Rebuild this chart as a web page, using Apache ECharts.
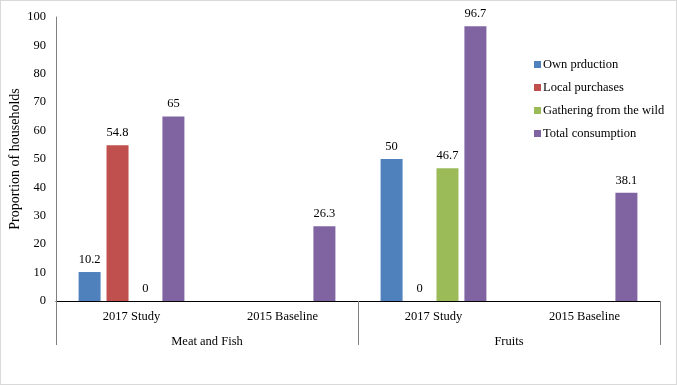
<!DOCTYPE html>
<html>
<head>
<meta charset="utf-8">
<script src="https://cdn.jsdelivr.net/npm/echarts@6/dist/echarts.min.js"></script>
<style>
  html, body { margin: 0; padding: 0; background: #fff; }
  #chart { width: 677px; height: 385px; box-sizing: border-box; border: 1px solid #d9d9d9; }
</style>
</head>
<body>
<div id="chart"></div>
<script>
var categories = ['2017 Study', '2015 Baseline', '2017 Study', '2015 Baseline'];
var groups = ['Meat and Fish', 'Fruits'];
var ownProduction = [10.2, null, 50, null];
var localPurchases = [54.8, null, 0, null];
var gatheringWild = [0, null, 46.7, null];
var totalConsumption = [65, 26.3, 96.7, 38.1];

var font = 'Liberation Serif';
var fs = 12.5;
var chart = echarts.init(document.getElementById('chart'));

var makeSeries = function (name, data, color) {
    return {
        name: name,
        type: 'bar',
        data: data,
        barWidth: 22,
        barGap: '27%',
        itemStyle: { color: color },
        label: {
            show: true,
            position: 'top',
            distance: 6,
            color: '#000',
            fontFamily: font,
            fontSize: fs
        }
    };
};

var option = {
    animation: false,
    textStyle: { fontFamily: font },
    grid: { left: 55, right: 16, top: 16, bottom: 83, outerBoundsMode: 'none', containLabel: false },
    legend: {
        orient: 'vertical',
        left: 528,
        top: 52,
        icon: 'rect',
        itemWidth: 7,
        itemHeight: 7,
        itemGap: 10,
        textStyle: { fontFamily: font, fontSize: fs, color: '#000', padding: [0, 0, 0, -3] },
        data: ['Own prduction', 'Local purchases', 'Gathering from the wild', 'Total consumption']
    },
    xAxis: [
        {
            type: 'category',
            data: categories,
            axisLine: { lineStyle: { color: '#000', width: 1 } },
            axisTick: { show: false },
            axisLabel: { margin: 9, color: '#000', fontFamily: font, fontSize: fs }
        },
        {
            type: 'category',
            data: groups,
            position: 'bottom',
            axisLine: { show: false },
            axisTick: { show: true, interval: 0, length: 44, lineStyle: { color: '#808080' } },
            axisLabel: { margin: 34, color: '#000', fontFamily: font, fontSize: fs }
        }
    ],
    yAxis: {
        type: 'value',
        min: 0,
        max: 100,
        interval: 10,
        name: 'Proportion of households',
        nameLocation: 'middle',
        nameGap: 34,
        nameMoveOverlap: false,
        nameTextStyle: { fontFamily: font, fontSize: 14, color: '#000' },
        axisLine: { show: true, lineStyle: { color: '#808080' } },
        axisTick: { show: false },
        splitLine: { show: false },
        axisLabel: { margin: 10, color: '#000', fontFamily: font, fontSize: fs }
    },
    series: [
        makeSeries('Own prduction', ownProduction, '#4F81BD'),
        makeSeries('Local purchases', localPurchases, '#C0504D'),
        makeSeries('Gathering from the wild', gatheringWild, '#9BBB59'),
        makeSeries('Total consumption', totalConsumption, '#8064A2')
    ]
};
chart.setOption(option);
</script>
</body>
</html>
